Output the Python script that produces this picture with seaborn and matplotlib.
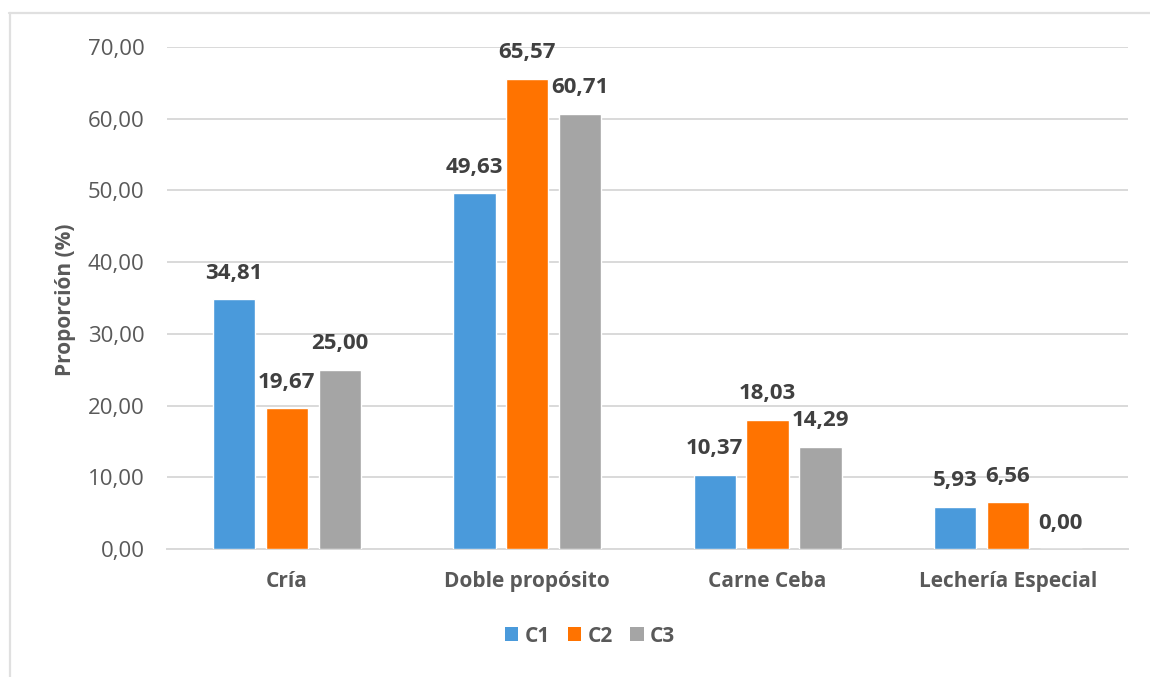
import matplotlib
matplotlib.use("Agg")
import matplotlib.pyplot as plt
from matplotlib.lines import Line2D
from matplotlib.patches import Patch
import seaborn as sns
import pandas as pd

categorias = ["Cría", "Doble propósito", "Carne Ceba", "Lechería Especial"]
grupos = ["C1", "C2", "C3"]
c1 = [34.81, 49.63, 10.37, 5.93]
c2 = [19.67, 65.57, 18.03, 6.56]
c3 = [25.00, 60.71, 14.29, 0.00]
yticks = [0, 10, 20, 30, 40, 50, 60, 70]
colores = ["#4A9ADB", "#FF7300", "#A5A5A5"]

df = pd.DataFrame({
    "Tipo": categorias * 3,
    "Grupo": [g for g in grupos for _ in categorias],
    "Proporción": c1 + c2 + c3,
})

sns.set_theme(style="white")
plt.rcParams["font.family"] = ["Open Sans", "DejaVu Sans"]

texto = "#404040"
gris_eje = "#595959"
rejilla = "#D9D9D9"

fig = plt.figure(figsize=(11.5, 6.77), dpi=100)
ax = fig.add_axes([0.145, 0.189, 0.836, 0.7416])

sns.barplot(data=df, x="Tipo", y="Proporción", hue="Grupo", order=categorias,
            hue_order=grupos, palette=colores, width=0.66, gap=0.2,
            saturation=1, legend=False, ax=ax, errorbar=None, zorder=3)

ax.set_xlim(-0.5, 3.5)
ax.set_ylim(0, 70)
ax.set_yticks(yticks)
ax.set_yticklabels([f"{t:.2f}".replace(".", ",") for t in yticks],
                   fontsize=16, color=gris_eje)
ax.tick_params(axis="y", length=0, pad=16)
ax.tick_params(axis="x", length=0, pad=16)
for lbl in ax.get_xticklabels():
    lbl.set_fontsize(15)
    lbl.set_fontweight("bold")
    lbl.set_color(gris_eje)
ax.set_xlabel("")
ax.set_ylabel("")

ax.yaxis.grid(True, color=rejilla, linewidth=1.4, zorder=0)
ax.set_axisbelow(True)
for s in ["top", "right", "left"]:
    ax.spines[s].set_visible(False)
ax.spines["bottom"].set_color(rejilla)
ax.spines["bottom"].set_linewidth(1.4)

for cont, vals in zip(ax.containers, [c1, c2, c3]):
    ax.bar_label(cont, labels=[f"{v:.2f}".replace(".", ",") for v in vals],
                 padding=11, fontsize=16, fontweight="bold", color=texto)

fig.text(66 / 1150, 1 - 300 / 677, "Proporción (%)", rotation=90,
         ha="center", va="center", fontsize=15, fontweight="bold", color=gris_eje)

handles = [Patch(facecolor=c, edgecolor="none") for c in colores]
fig.legend(handles, grupos, loc="center", bbox_to_anchor=(590 / 1150, 1 - 636 / 677),
           ncol=3, frameon=False, handlelength=0.65, handleheight=0.65,
           handletextpad=0.3, columnspacing=0.85,
           prop={"size": 15, "weight": "bold"}, labelcolor=gris_eje)

# marco exterior
fig.add_artist(Line2D([9 / 1150, 1], [1 - 12.5 / 677, 1 - 12.5 / 677],
                      transform=fig.transFigure, color="#E0E0E0", linewidth=1.6))
fig.add_artist(Line2D([9.5 / 1150, 9.5 / 1150], [0, 1 - 12.5 / 677],
                      transform=fig.transFigure, color="#E0E0E0", linewidth=1.6))

fig.savefig("out.png", dpi=100, facecolor="white")
